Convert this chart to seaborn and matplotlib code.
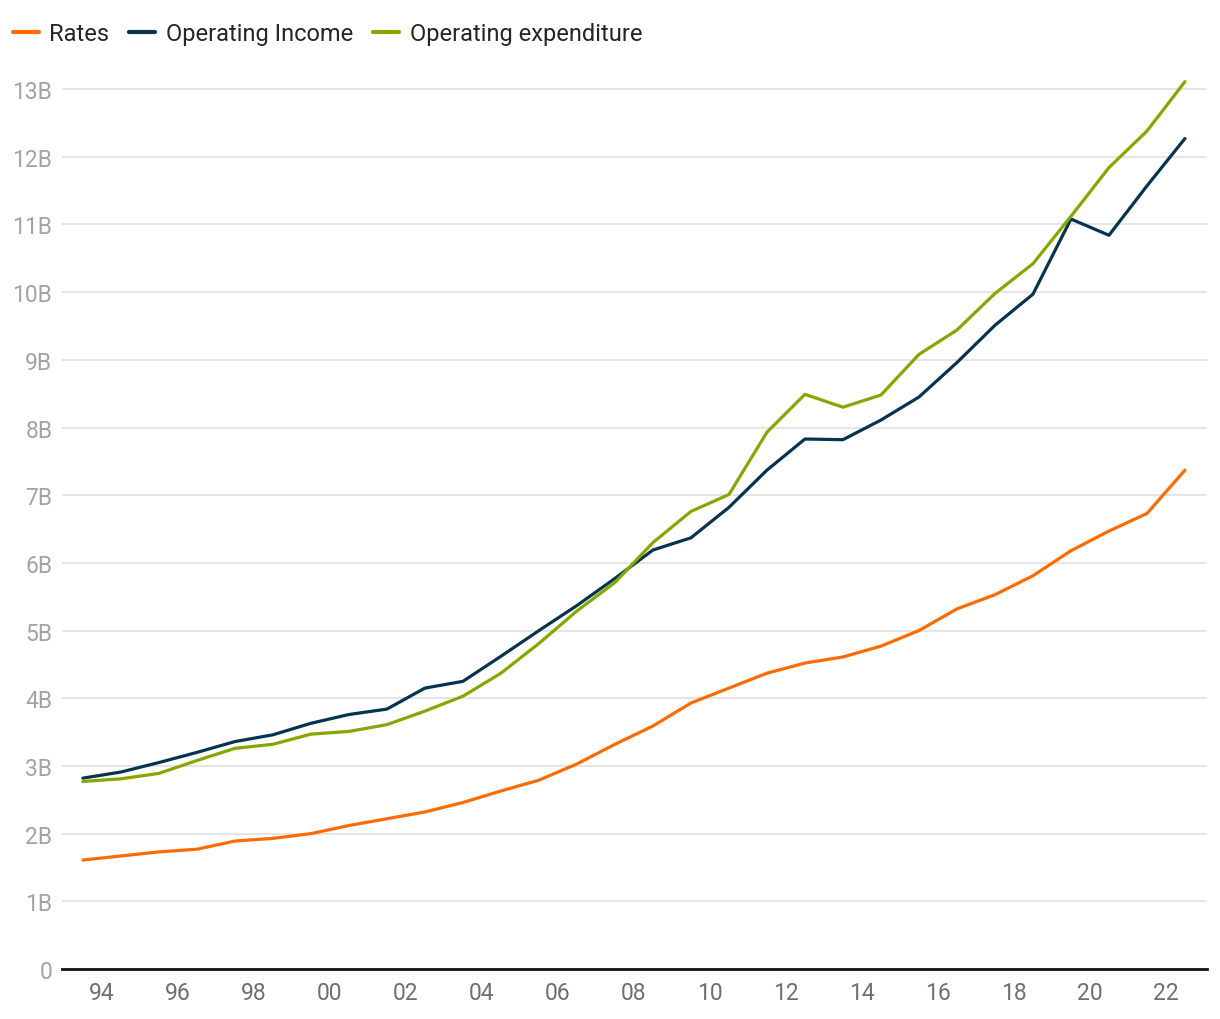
import seaborn as sns, matplotlib.pyplot as plt
import pandas as pd
from matplotlib.ticker import FuncFormatter

# financial years ending 30 June
years = list(range(1993, 2023))

rates = [1.61, 1.67, 1.73, 1.77, 1.89, 1.93, 2.00, 2.12, 2.22, 2.32,
         2.46, 2.63, 2.79, 3.03, 3.32, 3.59, 3.93, 4.15, 4.37, 4.52,
         4.61, 4.77, 5.00, 5.32, 5.53, 5.81, 6.18, 6.47, 6.73, 7.37]
income = [2.82, 2.91, 3.05, 3.20, 3.36, 3.46, 3.63, 3.76, 3.84, 4.15,
          4.25, 4.62, 5.00, 5.37, 5.77, 6.19, 6.37, 6.82, 7.37, 7.83,
          7.82, 8.11, 8.45, 8.96, 9.51, 9.97, 11.08, 10.84, 11.57, 12.27]
expenditure = [2.77, 2.81, 2.89, 3.08, 3.26, 3.32, 3.47, 3.51, 3.61, 3.81,
               4.03, 4.37, 4.81, 5.29, 5.71, 6.30, 6.76, 7.01, 7.93, 8.49,
               8.30, 8.48, 9.08, 9.44, 9.98, 10.42, 11.12, 11.84, 12.38, 13.11]

series = ['Rates', 'Operating Income', 'Operating expenditure']
colors = ['#ff6b00', '#06344f', '#84a800']

df = pd.DataFrame({'year': years, 'Rates': rates,
                   'Operating Income': income,
                   'Operating expenditure': expenditure})
df['x'] = df['year'] + 0.5  # plotted at mid-year (30 June)
long = df.melt(id_vars=['year', 'x'], value_vars=series,
               var_name='series', value_name='value')

sns.set_style('white')
plt.rcParams['font.family'] = ['Roboto', 'DejaVu Sans']

fig = plt.figure(figsize=(12.2, 10.2), dpi=100)
ax = fig.add_axes([62 / 1220, 50 / 1020, 1145 / 1220, 907 / 1020])

sns.lineplot(data=long, x='x', y='value', hue='series', hue_order=series,
             palette=colors, linewidth=2.3, ax=ax, legend=False)

ax.set_xlim(1992.95, 2023.08)
ax.set_ylim(0, 13.4)
ax.set_yticks(range(0, 14))
ax.yaxis.set_major_formatter(FuncFormatter(lambda v, p: '0' if v == 0 else f'{int(v)}B'))
ax.set_xticks(range(1994, 2023, 2))
ax.set_xticklabels([f'{y % 100:02d}' for y in range(1994, 2023, 2)])

ax.grid(axis='y', color='#e3e3e3', linewidth=1.3)
ax.set_axisbelow(True)
for s in ['top', 'right', 'left']:
    ax.spines[s].set_visible(False)
ax.spines['bottom'].set_color('#111111')
ax.spines['bottom'].set_linewidth(2)
ax.tick_params(axis='y', length=0, pad=7, labelsize=16.5, labelcolor='#a3a3a3')
ax.tick_params(axis='x', length=0, pad=9, labelsize=16.5, labelcolor='#6f6f6f')
ax.set_xlabel('')
ax.set_ylabel('')

# legend on top
handles = [plt.Line2D([], [], color=c, linewidth=3) for c in colors]
fig.legend(handles, series, loc='upper left', bbox_to_anchor=(-0.004, 0.995),
           ncol=3, frameon=False, fontsize=17.0, handlelength=1.1,
           handletextpad=0.45, columnspacing=0.85, borderaxespad=0.35)

fig.savefig('out.png', dpi=100)
